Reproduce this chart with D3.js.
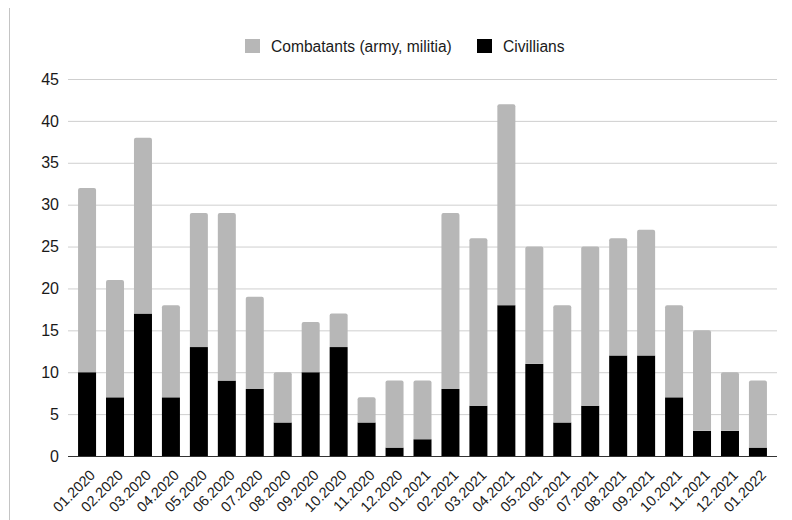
<!DOCTYPE html>
<html>
<head>
<meta charset="utf-8">
<script src="https://cdn.jsdelivr.net/npm/d3@7"></script>
<style>
  html, body { margin: 0; padding: 0; background: #fff; }
  svg { display: block; font-family: "Liberation Sans", Arial, sans-serif; }
</style>
</head>
<body>
<svg id="chart" width="792" height="520"></svg>
<script>
// Monthly casualties, split by category
const months = ["01.2020","02.2020","03.2020","04.2020","05.2020","06.2020","07.2020","08.2020","09.2020","10.2020","11.2020","12.2020",
                "01.2021","02.2021","03.2021","04.2021","05.2021","06.2021","07.2021","08.2021","09.2021","10.2021","11.2021","12.2021","01.2022"];
const civilians  = [10, 7, 17, 7, 13, 9, 8, 4, 10, 13, 4, 1, 2, 8, 6, 18, 11, 4, 6, 12, 12, 7, 3, 3, 1];
const combatants = [22, 14, 21, 11, 16, 20, 11, 6, 6, 4, 3, 8, 7, 21, 20, 24, 14, 14, 19, 14, 15, 11, 12, 7, 8];
const yTicks = [0, 5, 10, 15, 20, 25, 30, 35, 40, 45];
const seriesNames = ["Combatants (army, militia)", "Civillians"];
const seriesColors = { civilians: "#000000", combatants: "#b7b7b7" };

const svg = d3.select("#chart");
const plot = { left: 68, right: 777, top: 79, bottom: 456 };

const x = d3.scaleBand().domain(months).range([plot.left, plot.right]).paddingInner(0.356).paddingOuter(0.36);
const y = d3.scaleLinear().domain([0, 45]).range([plot.bottom, plot.top]);

// thin frame line on the left edge
svg.append("line").attr("x1", 9.5).attr("x2", 9.5).attr("y1", 8).attr("y2", 520)
  .attr("stroke", "#c4c4c4").attr("stroke-width", 1);

// horizontal gridlines
const yAxis = d3.axisLeft(y).tickValues(yTicks).tickSize(-(plot.right - plot.left)).tickPadding(9);
const gy = svg.append("g").attr("transform", `translate(${plot.left},0)`).call(yAxis);
gy.select(".domain").remove();
gy.selectAll(".tick line").attr("stroke", "#cfcfcf").attr("stroke-width", 1);
gy.selectAll(".tick text").attr("fill", "#1a1a1a").style("font-size", "16px")
  .style("font-family", "'Liberation Sans', Arial, sans-serif");

const rows = months.map((m, i) => ({ month: m, civilians: civilians[i], combatants: combatants[i] }));
const stack = d3.stack().keys(["civilians", "combatants"]);
const layers = stack(rows);

const r = 2;
// civilians: plain rects; combatants: top corners rounded
svg.append("g").selectAll("rect").data(layers[0]).join("rect")
  .attr("x", d => x(d.data.month))
  .attr("width", x.bandwidth())
  .attr("y", d => y(d[1]))
  .attr("height", d => y(d[0]) - y(d[1]))
  .attr("fill", seriesColors.civilians);

svg.append("g").selectAll("path").data(layers[1]).join("path")
  .attr("fill", seriesColors.combatants)
  .attr("d", d => {
    const x0 = x(d.data.month), w = x.bandwidth();
    const yt = y(d[1]), yb = y(d[0]);
    return `M${x0},${yb}V${yt + r}Q${x0},${yt} ${x0 + r},${yt}H${x0 + w - r}Q${x0 + w},${yt} ${x0 + w},${yt + r}V${yb}Z`;
  });

// baseline
svg.append("line").attr("x1", plot.left).attr("x2", plot.right).attr("y1", plot.bottom + 0.5).attr("y2", plot.bottom + 0.5)
  .attr("stroke", "#333").attr("stroke-width", 1.2);

// x labels, rotated
const xAxis = d3.axisBottom(x).tickSize(0).tickPadding(0);
const gx = svg.append("g").attr("transform", `translate(0,${plot.bottom})`).call(xAxis);
gx.select(".domain").remove();
gx.selectAll(".tick text")
  .attr("text-anchor", "end")
  .attr("dy", 0)
  .attr("fill", "#1a1a1a")
  .style("font-size", "14.5px")
  .style("font-family", "'Liberation Sans', Arial, sans-serif")
  .attr("transform", "translate(9,20) rotate(-45)");

// legend
const legend = svg.append("g");
const items = [
  { name: seriesNames[0], color: seriesColors.combatants, x: 245 },
  { name: seriesNames[1], color: seriesColors.civilians, x: 477 }
];
items.forEach(it => {
  legend.append("rect").attr("x", it.x).attr("y", 39).attr("width", 15).attr("height", 14)
    .attr("fill", it.color);
  legend.append("text").attr("x", it.x + 26).attr("y", 51.5).text(it.name)
    .attr("fill", "#1a1a1a").style("font-size", "15.6px");
});
</script>
</body>
</html>
